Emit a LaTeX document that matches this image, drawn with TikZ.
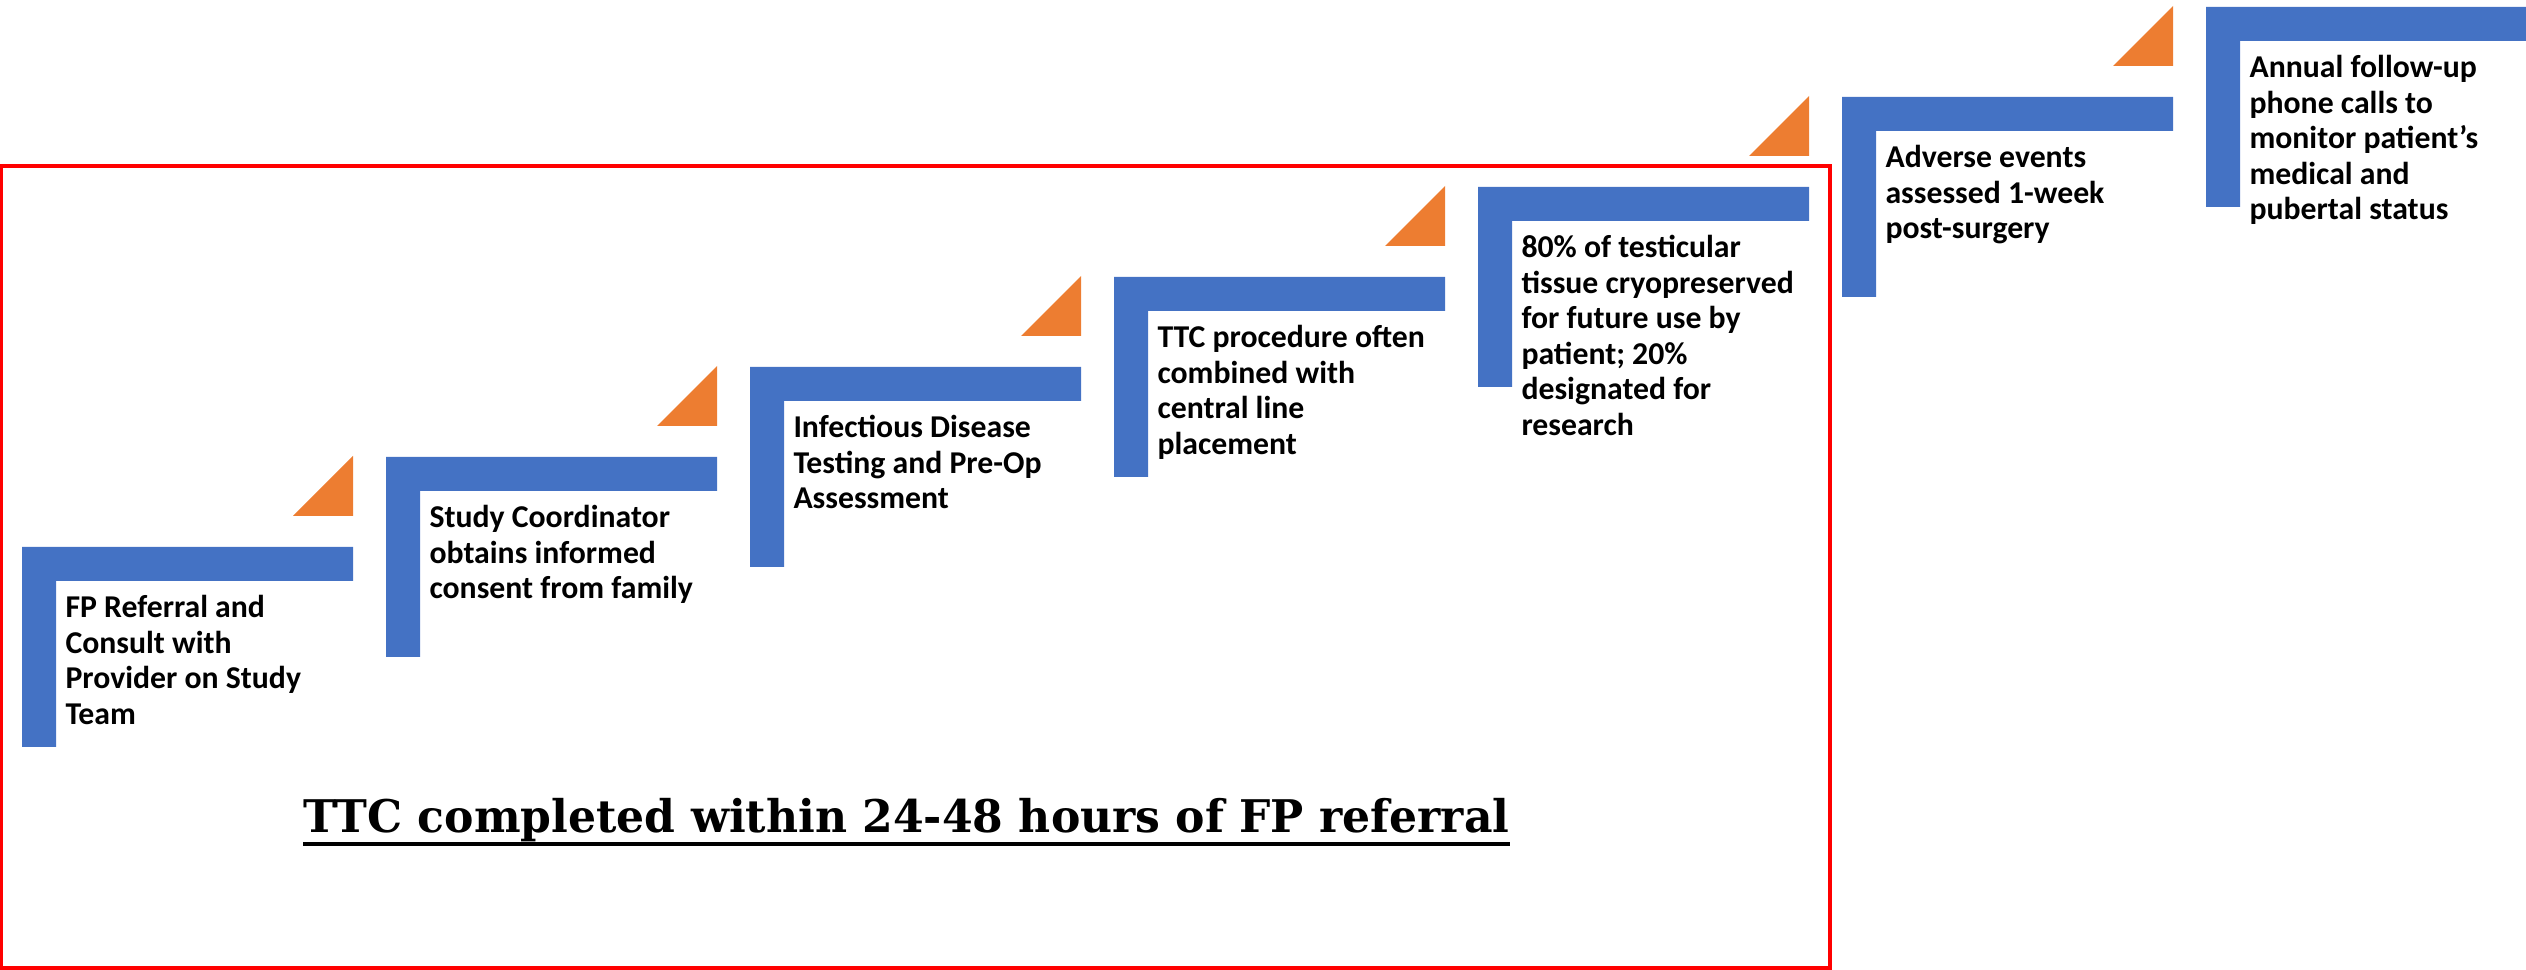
\documentclass[tikz,border=0pt]{standalone}
\usepackage{fontspec}
\setmainfont{Carlito}
\newfontfamily\titlefont[FakeStretch=0.98]{DejaVu Serif}
\definecolor{stepblue}{RGB}{68,114,196}
\definecolor{steporange}{RGB}{237,125,49}
\definecolor{boxred}{RGB}{255,0,0}

\begin{document}
\begin{tikzpicture}[x=0.4pt, y=-0.4pt,
    stepbar/.style={fill=stepblue},
    steptip/.style={fill=steporange},
    steptext/.style={anchor=north west, inner sep=0pt, align=left, font=\fontsize{12.7}{14.2}\selectfont\bfseries},
    titletext/.style={anchor=base west, inner sep=0pt, font=\titlefont\bfseries\fontsize{18}{22}\selectfont},
  ]
  \useasboundingbox (0,0) rectangle (2526,970);
  %Frame
  \draw[boxred, line width=1.4pt] (1.5,166) rectangle (1830,968);
  %Steps
  \foreach \i/\txt in {0/{FP Referral and\\Consult with\\Provider on Study\\Team},
                       1/{Study Coordinator\\obtains informed\\consent from family},
                       2/{Infectious Disease\\Testing and Pre-Op\\Assessment},
                       3/{TTC procedure often\\combined with\\central line\\placement},
                       4/{80\% of testicular\\tissue cryopreserved\\for future use by\\patient; 20\%\\designated for\\research},
                       5/{Adverse events\\assessed 1-week\\post-surgery},
                       6/{Annual follow-up\\phone calls to\\monitor patient’s\\medical and\\pubertal status}} {
    \pgfmathsetmacro\sx{22+364*\i}
    \pgfmathsetmacro\sy{547-90*\i}
    \fill[stepbar] (\sx,\sy) -- ++(331,0) -- ++(0,34) -- ++(-297,0) -- ++(0,166) -- ++(-34,0) -- cycle;
    \ifnum\i<6
      \fill[steptip] (\sx+271,\sy-31) -- ++(60,0) -- ++(0,-60) -- cycle;
    \fi
    \node[steptext] (step\i) at (\sx+43,\sy+48) {\txt};
  }
  %Title
  \node[titletext] (title) at (303,833) {TTC completed within 24-48 hours of FP referral};
  \draw[line width=1.6pt] ([yshift=-4.4pt]title.base west) -- ([yshift=-4.4pt]title.base east);
\end{tikzpicture}
\end{document}
